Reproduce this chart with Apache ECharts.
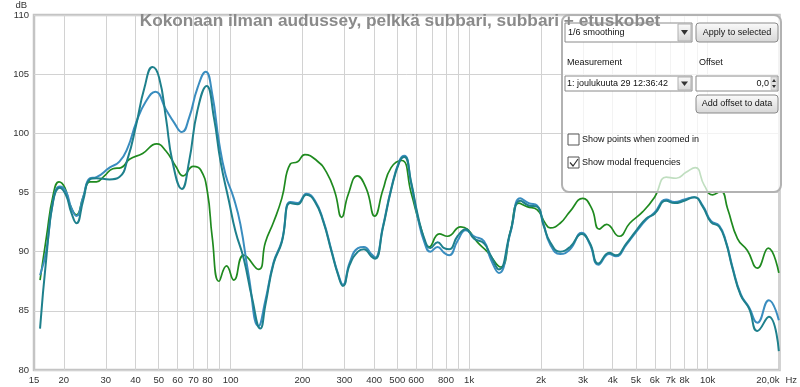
<!DOCTYPE html>
<html>
<head>
<meta charset="utf-8">
<script src="https://cdn.jsdelivr.net/npm/echarts@6/dist/echarts.min.js"></script>
<style>
html,body{margin:0;padding:0;background:#fff;}
#chart{width:800px;height:387px;}
</style>
</head>
<body>
<div id="chart"></div>
<script>
// ---------------- data ----------------
const titleText = 'Kokonaan ilman audussey, pelkkä subbari, subbari + etuskobet';

// green trace
const greenHz = [15.9,16.9,18.05,19.1,20.2,21.2,22.6,24.1,25.7,27.4,29.6,32.1,34.8,37.7,42.8,49.0,53.6,59.0,63.3,69.8,75.0,79.9,83.8,89.4,96.2,103.2,113.6,131,140,151.5,164,178,191,205,229.5,252.6,274,292,311,340,371,402,435,471,522,571,628,681,750,812,922,983,1083,1191,1354,1490,1615,1749,1925,2085,2187,2407,2650,2993,3264,3513,3768,4257,4712,5360,5990,6700,7375,8117,8876,9678,10491,11358,12111,13332,14672,16155,17940,19875];
const greenDb = [87.6,91.2,94.8,95.9,95.4,94.0,93.1,94.6,95.9,95.9,96.4,97.0,97.1,97.8,98.3,99.1,98.5,97.2,96.4,97.2,96.9,95.1,91.2,87.5,88.8,87.6,89.7,88.5,90.8,92.5,94.5,97.4,97.6,98.2,97.7,96.7,95.0,92.9,94.8,96.4,95.3,93.0,95.2,97.1,97.7,95.0,92.0,90.4,91.5,91.3,92.1,91.9,90.8,90.0,88.7,91.7,94.1,93.8,93.55,92.4,92.0,92.4,93.4,94.5,93.65,91.9,92.3,91.3,92.4,93.4,94.6,96.3,96.2,96.7,97.1,95.6,94.8,95.1,93.65,91.1,90.1,88.6,90.3,88.2];

// dark teal trace
const tealHz = [15.9,16.9,18.05,19.25,20.4,21.5,22.6,24.1,25.7,27.4,31.1,34.2,37.1,40.2,43.5,47.1,50.2,53.6,57.1,62.5,67.0,72.6,79.4,85.2,90.8,98.4,104.9,113.6,123,133.3,140,151.5,164,178,191,208,226,245,265,282.6,296,316,342,362.5,389,404,435,471,511,536,571,609,649,688,737.5,786,825,894,967.5,1049,1154,1230,1333,1490,1640,1778,1925,2053,2187,2407,2650,2964,3210,3480,3867,4121,4565,5025,5532,5990,6700,7255,7987,8791,9530,10321,11175,11915,12705,13760,14901,16155,18045,19875];
const tealDb = [83.5,89.5,94.3,95.4,94.8,93.3,92.4,94.3,96.1,96.2,96.1,96.3,97.9,100.7,103.8,105.6,104.7,101.3,97.6,95.3,97.6,101.9,104.0,101.3,97.6,94.3,91.7,89.4,86.1,83.5,85.5,89.0,90.8,94.1,94.0,94.8,94.2,92.5,90.0,88.0,87.1,88.9,90.0,90.2,89.6,89.4,92.0,95.2,97.6,98.0,95.9,93.1,91.1,90.3,90.8,90.3,90.2,91.3,91.9,91.1,90.7,89.7,88.5,91.7,94.3,93.9,93.8,92.2,90.8,90.0,90.4,91.5,90.7,89.0,89.9,89.7,90.7,91.8,92.8,93.2,94.3,94.1,94.3,94.6,93.8,92.5,92.1,90.8,88.6,86.3,85.2,83.3,84.5,81.6];

// lighter blue trace
const blueHz = [15.9,16.9,18.05,19.25,20.4,21.5,22.6,24.1,25.7,27.4,31.1,34.2,37.1,40.2,44.2,48.4,53.6,58.0,62.5,67.0,72.6,78.7,83.8,89.4,95.3,103.2,110,119.1,131,140,151.5,164,178,191,208,226,245,265,282.6,296,316,342,362.5,389,404,435,471,511,536,571,609,649,688,737.5,786,825,894,967.5,1049,1154,1230,1333,1490,1640,1778,1925,2053,2187,2407,2650,2964,3210,3480,3867,4121,4565,5025,5532,5990,6700,7255,7987,8791,9530,10321,11175,11915,12705,13760,14901,16155,18045,19875];
const blueDb = [88.0,90.1,94.3,95.5,95.1,93.7,93.0,94.6,96.2,96.3,97.1,97.6,98.8,100.9,102.7,103.5,102.0,100.9,100.1,101.3,103.8,105.2,103.3,99.3,96.5,94.5,92.3,88.0,83.7,85.9,89.1,90.9,94.2,94.1,94.9,94.3,92.6,90.1,88.1,87.2,89.1,90.3,90.4,89.8,89.5,92.1,95.3,97.7,98.1,95.8,92.9,90.8,90.0,90.4,89.9,89.7,90.9,91.8,91.3,90.9,89.4,88.2,91.6,94.5,94.1,93.9,92.3,90.6,89.8,90.2,91.6,90.6,88.9,89.8,89.6,90.6,91.7,92.7,93.3,94.4,94.2,94.4,94.6,93.9,92.6,92.2,90.9,88.7,86.4,85.3,84.0,85.9,84.2];

// axis ticks
const gridHz = [20,30,40,50,60,70,80,90,100,200,300,400,500,600,700,800,900,1000,2000,3000,4000,5000,6000,7000,8000,9000,10000,20000];
const labelHz = [15,20,30,40,50,60,70,80,100,200,300,400,500,600,800,1000,2000,3000,4000,5000,6000,7000,8000,10000,20000];
const xMin = 15, xMax = 20000;
const yMin = 80, yMax = 110, yStep = 5;

// ---------------- chart ----------------
function pairs(xs, ys){ return xs.map((x,i)=>[x, ys[i]]); }
function fmtHz(v){
  if (v >= 20000) return '20,0k';
  if (v >= 1000) return (v/1000) + 'k';
  return String(v);
}
const FONT = '"Liberation Sans", Arial, sans-serif';
const chart = echarts.init(document.getElementById('chart'), null, {renderer:'canvas'});

function btnFill(){
  return new echarts.graphic.LinearGradient(0,0,0,1,[{offset:0,color:'#fbfbfb'},{offset:1,color:'#d6d6d6'}]);
}
const txt = (x,y,t,align) => ({type:'text', x:x, y:y, z:12,
  style:{text:t, fontSize:9, fontFamily:FONT, fill:'#111', verticalAlign:'middle', align:align||'left'}});

const panel = [
  {type:'rect', z:11, shape:{x:562,y:15,width:219,height:177,r:7},
   style:{fill:'rgba(255,255,255,0.72)', stroke:'#b2b2b2', lineWidth:2}},
  // dropdown 1
  {type:'rect', z:12, shape:{x:565,y:23,width:127,height:19}, style:{fill:'#fff', stroke:'#8a8a8a', lineWidth:1}},
  {type:'rect', z:12, shape:{x:678,y:24,width:13,height:17}, style:{fill:btnFill(), stroke:'#b0b0b0', lineWidth:1}},
  {type:'polygon', z:13, shape:{points:[[681,30],[688,30],[684.5,35]]}, style:{fill:'#333'}},
  txt(568,32.5,'1/6 smoothing'),
  // apply button
  {type:'rect', z:12, shape:{x:696,y:23,width:82,height:19,r:3}, style:{fill:btnFill(), stroke:'#8a8a8a', lineWidth:1}},
  txt(737,32.5,'Apply to selected','center'),
  txt(567,63,'Measurement'),
  txt(699,63,'Offset'),
  // dropdown 2
  {type:'rect', z:12, shape:{x:565,y:76,width:127,height:15}, style:{fill:'#fff', stroke:'#8a8a8a', lineWidth:1}},
  {type:'rect', z:12, shape:{x:678,y:77,width:13,height:13}, style:{fill:btnFill(), stroke:'#b0b0b0', lineWidth:1}},
  {type:'polygon', z:13, shape:{points:[[681,81.5],[688,81.5],[684.5,86]]}, style:{fill:'#333'}},
  txt(567,83.5,'1: joulukuuta 29 12:36:42'),
  // offset input
  {type:'rect', z:12, shape:{x:696,y:76,width:82,height:15}, style:{fill:'#fff', stroke:'#8a8a8a', lineWidth:1}},
  {type:'rect', z:12, shape:{x:771,y:77,width:6,height:13}, style:{fill:'#e2e2e2', stroke:'#b0b0b0', lineWidth:0.5}},
  {type:'polygon', z:13, shape:{points:[[772,82],[776,82],[774,79]]}, style:{fill:'#333'}},
  {type:'polygon', z:13, shape:{points:[[772,85],[776,85],[774,88]]}, style:{fill:'#333'}},
  txt(769,83.5,'0,0','right'),
  // add offset button
  {type:'rect', z:12, shape:{x:696,y:95,width:82,height:18,r:3}, style:{fill:btnFill(), stroke:'#8a8a8a', lineWidth:1}},
  txt(737,104,'Add offset to data','center'),
  // checkboxes
  {type:'rect', z:12, shape:{x:568,y:134,width:11,height:11}, style:{fill:'#fff', stroke:'#555', lineWidth:1}},
  txt(582,140,'Show points when zoomed in'),
  {type:'rect', z:12, shape:{x:568,y:157,width:11,height:11}, style:{fill:'#fff', stroke:'#555', lineWidth:1}},
  {type:'polyline', z:13, shape:{points:[[570,162.5],[573,166],[578,159]]}, style:{stroke:'#333', lineWidth:1.2, fill:null}},
  txt(582,162.5,'Show modal frequencies')
];

const option = {
  animation:false,
  backgroundColor:'#fff',
  title:{text:titleText, left:'center', top:13, padding:0, z:20,
    textStyle:{fontSize:17.3, fontWeight:'bold', color:'#8a8a8a', fontFamily:FONT}},
  grid:{left:34, right:16, top:12, bottom:17, show:true, borderColor:'#c4c4c4', borderWidth:2.5, backgroundColor:'#fff'},
  xAxis:{type:'log', logBase:10, min:xMin, max:xMax,
    name:'Hz', nameLocation:'end', nameGap:4,
    nameTextStyle:{fontSize:9.5, color:'#333', fontFamily:FONT, verticalAlign:'top', padding:[5,0,0,0]},
    axisLine:{show:false},
    axisTick:{show:false, customValues:gridHz},
    axisLabel:{customValues:labelHz, formatter:fmtHz, fontSize:9.5, color:'#333', fontFamily:FONT, margin:5,
      alignMaxLabel:'right', showMinLabel:true, showMaxLabel:true, hideOverlap:false},
    splitLine:{show:true, lineStyle:{color:'#d2d2d2', width:1}}
  },
  yAxis:{type:'value', min:yMin, max:yMax, interval:yStep,
    name:'dB', nameLocation:'end', nameGap:3,
    nameTextStyle:{fontSize:9.5, color:'#333', fontFamily:FONT, align:'right', padding:[0,7,0,0]},
    axisLine:{show:false}, axisTick:{show:false},
    axisLabel:{fontSize:9.5, color:'#333', fontFamily:FONT, margin:5},
    splitLine:{show:true, lineStyle:{color:'#d2d2d2', width:1}}
  },
  series:[
    {name:'green', type:'line', data:pairs(greenHz,greenDb), showSymbol:false, smooth:0.5,
     lineStyle:{width:1.7, color:'#1f8a1f'}, z:3},
    {name:'blue', type:'line', data:pairs(blueHz,blueDb), showSymbol:false, smooth:0.5,
     lineStyle:{width:2, color:'#3a8dbf'}, z:4},
    {name:'teal', type:'line', data:pairs(tealHz,tealDb), showSymbol:false, smooth:0.5,
     lineStyle:{width:2, color:'#1e808c'}, z:5}
  ],
  graphic:panel
};
chart.setOption(option);
</script>
</body>
</html>
